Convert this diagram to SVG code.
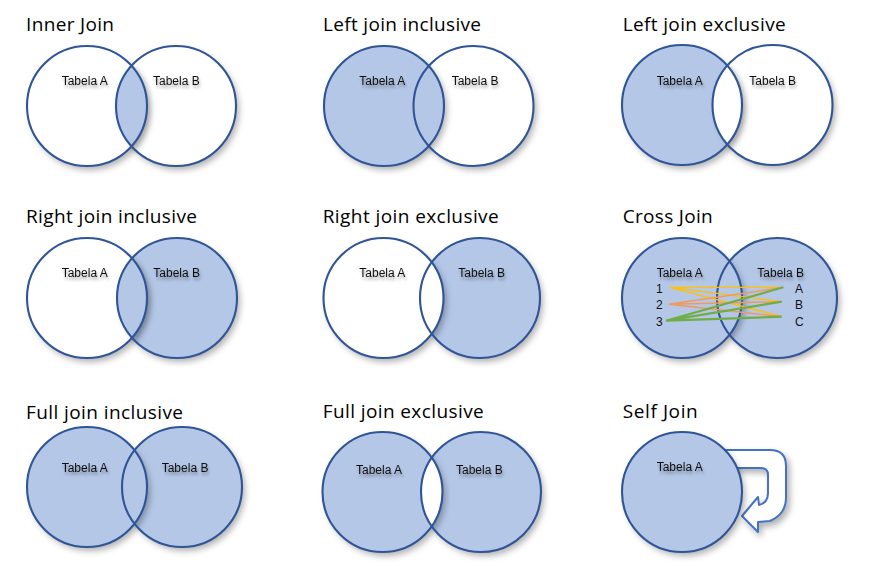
<svg xmlns="http://www.w3.org/2000/svg" width="873" height="566" viewBox="0 0 873 566">
  <defs>
    <!-- soft drop shadow under the circles -->
    <filter id="shadow" x="-25%" y="-25%" width="160%" height="160%">
      <feDropShadow dx="3" dy="4" stdDeviation="3" flood-color="#000" flood-opacity="0.3"/>
    </filter>
    <!-- lighter shadow where one circle overlaps the other -->
    <filter id="lshadow" x="-25%" y="-25%" width="160%" height="160%">
      <feDropShadow dx="3" dy="3" stdDeviation="3" flood-color="#000" flood-opacity="0.15"/>
    </filter>
    <!-- faint shadow behind the table labels -->
    <filter id="tshadow" x="-10%" y="-60%" width="130%" height="260%">
      <feDropShadow dx="1" dy="3" stdDeviation="1.5" flood-color="#000" flood-opacity="0.35"/>
    </filter>
  </defs>
  <style>
    .title{font-family:"Open Sans","Noto Sans",sans-serif;font-size:19px;fill:#000}
    .lbl{font-family:"Liberation Sans",Arial,sans-serif;font-size:12px;fill:#111;filter:url(#tshadow)}
    .num{font-family:"Liberation Sans",Arial,sans-serif;font-size:12px;fill:#111}
    .blue{fill:#b4c7e7}
    .white{fill:#fff}
    .sh{filter:url(#shadow)}
    .lsh{filter:url(#lshadow)}
    .ring{fill:none;stroke:#2f5597;stroke-width:2.1}
    .y{stroke:#ffc000;stroke-width:1.3;fill:none}
    .o{stroke:#f19a5e;stroke-width:1.5;fill:none}
    .g{stroke:#70ad47;stroke-width:2.2;fill:none}
    .arrow{fill:#fff;stroke:#4472c4;stroke-width:2;stroke-linejoin:round;filter:url(#shadow)}
  </style>

  <!-- Row 1 -->
  <g id="inner-join">
    <text class="title" x="26" y="31" textLength="88" lengthAdjust="spacing">Inner Join</text>
    <circle class="white sh" cx="176" cy="106" r="60"/>
    <circle class="white sh" cx="87" cy="106" r="60"/>
    <path class="blue lsh" d="M131.5,65.75 A60,60 0 0 1 131.5,146.25 A60,60 0 0 1 131.5,65.75 Z"/>
    <circle class="ring" cx="87" cy="106" r="60"/>
    <circle class="ring" cx="176" cy="106" r="60"/>
    <text class="lbl" x="61.7" y="85">Tabela A</text>
    <text class="lbl" x="153" y="85">Tabela B</text>
  </g>

  <g id="left-join-inclusive">
    <text class="title" x="323" y="31" textLength="158" lengthAdjust="spacing">Left join inclusive</text>
    <circle class="white sh" cx="473.5" cy="106" r="60"/>
    <circle class="blue sh" cx="384" cy="106" r="60"/>
    <circle class="ring" cx="384" cy="106" r="60"/>
    <circle class="ring" cx="473.5" cy="106" r="60"/>
    <text class="lbl" x="359.3" y="85">Tabela A</text>
    <text class="lbl" x="451.7" y="85">Tabela B</text>
  </g>

  <g id="left-join-exclusive">
    <text class="title" x="622.7" y="31" textLength="163" lengthAdjust="spacing">Left join exclusive</text>
    <circle class="white sh" cx="772.5" cy="105" r="60"/>
    <circle class="blue sh" cx="682" cy="105" r="60"/>
    <path class="white lsh" d="M727.25,65.6 A60,60 0 0 1 727.25,144.4 A60,60 0 0 1 727.25,65.6 Z"/>
    <circle class="ring" cx="682" cy="105" r="60"/>
    <circle class="ring" cx="772.5" cy="105" r="60"/>
    <text class="lbl" x="656.7" y="85">Tabela A</text>
    <text class="lbl" x="749.3" y="85">Tabela B</text>
  </g>

  <!-- Row 2 -->
  <g id="right-join-inclusive">
    <text class="title" x="26" y="223" textLength="171" lengthAdjust="spacing">Right join inclusive</text>
    <circle class="blue sh" cx="177" cy="298" r="60"/>
    <circle class="white sh" cx="87" cy="298" r="60"/>
    <path class="blue lsh" d="M132,258.31 A60,60 0 0 1 132,337.69 A60,60 0 0 1 132,258.31 Z"/>
    <circle class="ring" cx="87" cy="298" r="60"/>
    <circle class="ring" cx="177" cy="298" r="60"/>
    <text class="lbl" x="61.7" y="277">Tabela A</text>
    <text class="lbl" x="153.3" y="277">Tabela B</text>
  </g>

  <g id="right-join-exclusive">
    <text class="title" x="322.7" y="223" textLength="176" lengthAdjust="spacing">Right join exclusive</text>
    <circle class="blue sh" cx="480" cy="298" r="60"/>
    <circle class="white sh" cx="383.5" cy="298" r="60"/>
    <circle class="ring" cx="383.5" cy="298" r="60"/>
    <circle class="ring" cx="480" cy="298" r="60"/>
    <text class="lbl" x="359.3" y="277">Tabela A</text>
    <text class="lbl" x="458.3" y="277">Tabela B</text>
  </g>

  <g id="cross-join">
    <text class="title" x="622.7" y="223" textLength="90" lengthAdjust="spacing">Cross Join</text>
    <circle class="blue sh" cx="777" cy="298" r="60"/>
    <circle class="blue sh" cx="682" cy="298" r="60"/>
    <circle class="ring" cx="682" cy="298" r="60"/>
    <circle class="ring" cx="777" cy="298" r="60"/>
    <text class="lbl" x="656.7" y="277">Tabela A</text>
    <text class="lbl" x="757.3" y="277">Tabela B</text>
    <text class="num" x="656" y="292.7">1</text>
    <text class="num" x="656" y="309.3">2</text>
    <text class="num" x="656" y="326">3</text>
    <text class="num" x="795" y="292.7">A</text>
    <text class="num" x="795" y="309.3">B</text>
    <text class="num" x="795" y="326">C</text>
  </g>

  <!-- row-to-row pairings of the cross join -->
  <g id="connectors">
    <path class="y" d="M670,287.3 L783.3,287.3 M670,287.3 L781.7,301.7 M670,287.3 L781.7,316.7"/>
    <path class="o" d="M669,304.3 L783.3,287.3 M669,304.3 L781.7,301.7 M669,304.3 L781.7,316.7"/>
    <path class="g" d="M666,320.7 L783.3,287.3 M666,320.7 L781.7,301.7 M666,320.7 L781.7,316.7"/>
  </g>

  <!-- Row 3 -->
  <g id="full-join-inclusive">
    <text class="title" x="26" y="419" textLength="157" lengthAdjust="spacing">Full join inclusive</text>
    <circle class="blue sh" cx="182" cy="487" r="60"/>
    <circle class="blue sh" cx="87" cy="487" r="60"/>
    <circle class="ring" cx="87" cy="487" r="60"/>
    <circle class="ring" cx="182" cy="487" r="60"/>
    <text class="lbl" x="61.7" y="472">Tabela A</text>
    <text class="lbl" x="161.7" y="472">Tabela B</text>
  </g>

  <g id="full-join-exclusive">
    <text class="title" x="322.7" y="418" textLength="161" lengthAdjust="spacing">Full join exclusive</text>
    <circle class="blue sh" cx="481" cy="492" r="60"/>
    <circle class="blue sh" cx="382.5" cy="492" r="60"/>
    <path class="white" d="M431.75,457.73 A60,60 0 0 1 431.75,526.27 A60,60 0 0 1 431.75,457.73 Z"/>
    <circle class="ring" cx="382.5" cy="492" r="60"/>
    <circle class="ring" cx="481" cy="492" r="60"/>
    <text class="lbl" x="356" y="474">Tabela A</text>
    <text class="lbl" x="456" y="474">Tabela B</text>
  </g>

  <g id="self-join">
    <text class="title" x="622.7" y="418" textLength="75" lengthAdjust="spacing">Self Join</text>
    <path class="arrow" d="M720,450 L770,450 Q786,450 786,466 L786,498 Q786,514 770,521 L758,522 L758,532 L742,516 L758,497 L759,505 Q768,503 768,493 L768,475 Q768,468 761,468 L720,468 Z"/>
    <circle class="blue sh" cx="682" cy="492" r="60"/>
    <circle class="ring" cx="682" cy="492" r="60"/>
    <text class="lbl" x="656.7" y="471">Tabela A</text>
  </g>
</svg>
